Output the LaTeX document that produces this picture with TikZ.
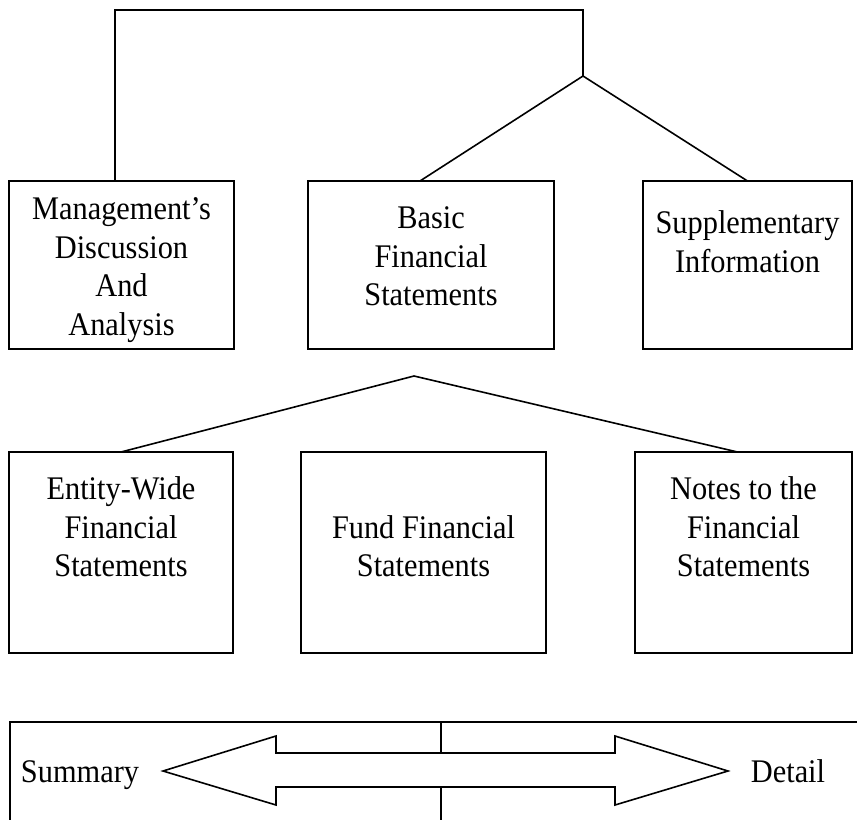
\documentclass[tikz,border=0pt]{standalone}
\usepackage{fontspec}
\setmainfont{Liberation Serif}[FakeStretch=0.92]
\usetikzlibrary{positioning}
\begin{document}
\begin{tikzpicture}[x=1pt, y=-1pt, line width=1.6pt,
		box/.style={draw, rectangle, inner sep=0pt, outer sep=0pt, anchor=north west, minimum height=168pt},
		lowbox/.style={box, minimum height=201pt},
		lbl/.style={align=center, inner sep=0pt, font=\fontsize{33}{38.5}\selectfont},
		side/.style={inner sep=0pt, anchor=base, font=\fontsize{33}{38}\selectfont}]
	\useasboundingbox (0,0) rectangle (857,820);
	
	\node[box, minimum width=225pt] (mda) at (9,181) {};
	\node[box, minimum width=246pt] (basic) at (308,181) {};
	\node[box, minimum width=209pt] (supp) at (643,181) {};
	
	\node[lbl, below=16pt of mda.north] (mdatext) {Management's\\Discussion\\And\\Analysis};
	\node[lbl, below=25pt of basic.north] (basictext) {Basic\\Financial\\Statements};
	\node[lbl, below=29pt of supp.north] (supptext) {Supplementary\\Information};
	
	\node[lowbox, minimum width=224pt] (entity) at (9,452) {};
	\node[lowbox, minimum width=245pt] (fund) at (301,452) {};
	\node[lowbox, minimum width=217pt] (notes) at (635,452) {};
	
	\node[lbl, below=24pt of entity.north] (entitytext) {Entity-Wide\\Financial\\Statements};
	\node[lbl, below=62.5pt of fund.north] (fundtext) {Fund Financial\\Statements};
	\node[lbl, below=24pt of notes.north] (notestext) {Notes to the\\Financial\\Statements};
	
	\coordinate[](topleft) at (115,10);
	\coordinate[](topright) at (583,10);
	\coordinate[](fork) at (583,76);
	\coordinate[](split) at (414,376);
	
	\draw (topleft |- mda.north) -- (topleft) -- (topright) -- (fork);
	\draw ([xshift=-11pt]basic.north) -- (fork) -- (supp.north);
	\draw (entity.north) -- (split) -- ([xshift=-6pt]notes.north);
	
	% summary / detail bar
	\coordinate[](barright) at (857,722);
	\coordinate[](barleft) at (10,722);
	\coordinate[](barbottom) at (10,820);
	\coordinate[](midtop) at (441,722);
	\coordinate[](midbottom) at (441,820);
	
	\draw (barright) -- (barleft) -- (barbottom);
	\draw (midtop) -- (midbottom);
	\draw[fill=white] (163,771) -- (276,736) -- (276,753) -- (615,753) -- (615,736) -- (728,771)
		-- (615,805) -- (615,787) -- (276,787) -- (276,805) -- cycle;
	
	\node[side] (summary) at (80,782) {Summary};
	\node[side] (detail) at (788,782) {Detail};
\end{tikzpicture}
\end{document}
